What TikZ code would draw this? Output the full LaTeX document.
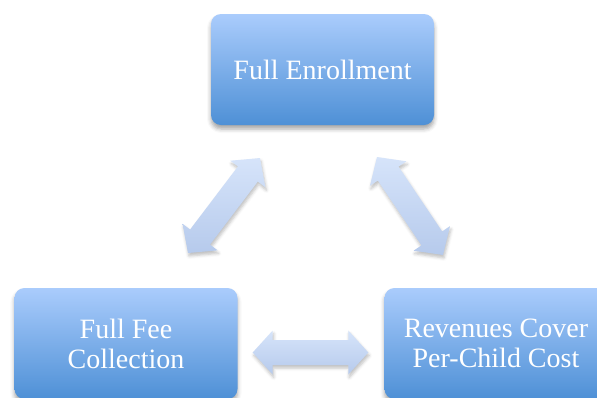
\documentclass[tikz,border=0pt]{standalone}
\usepackage{fontspec}
\setmainfont{Liberation Serif}
\usetikzlibrary{shadows.blur,calc}
\definecolor{boxtop}{RGB}{170,204,252}
\definecolor{boxbot}{RGB}{78,144,214}
\definecolor{arrtop}{RGB}{214,228,250}
\definecolor{arrbot}{RGB}{182,202,236}
\newcommand\linkarrow[2]{%
  \path [link] let \p1=(#1),\p2=(#2),\n1={atan2(\y2-\y1,\x2-\x1)},
    \n2={veclen(\x2-\x1,\y2-\y1)} in [shift={(\p1)},rotate=\n1]
    (0,0) -- (20,22) -- (20,12.5) -- (\n2-20,12.5) -- (\n2-20,22) -- (\n2,0)
    -- (\n2-20,-22) -- (\n2-20,-12.5) -- (20,-12.5) -- (20,-22) -- cycle;}
\begin{document}
\begin{tikzpicture}[x=1pt,y=1pt,
  goal/.style={rounded corners=10pt,minimum width=223pt,minimum height=111pt,
    top color=boxtop,bottom color=boxbot,text=white,align=center,
    font=\fontsize{28}{30}\selectfont,
    blur shadow={shadow xshift=0pt,shadow yshift=-4pt,shadow opacity=35,shadow blur radius=4pt}},
  link/.style={top color=arrtop,bottom color=arrbot,
    blur shadow={shadow xshift=1pt,shadow yshift=-3pt,shadow opacity=25,shadow blur radius=3pt}}]
\useasboundingbox (0,0) rectangle (597,-397);
\node [goal] (enroll) at (322.5,-69.5) {Full Enrollment};
\node [goal] (fees) at (126,-343.5) {Full Fee\\Collection};
\node [goal] (cost) at (496,-343.5) {Revenues Cover\\Per-Child Cost};
\coordinate (fees-up) at (188,-253);
\coordinate (enroll-left) at (260,-158);
\coordinate (enroll-right) at (377,-157);
\coordinate (cost-up) at (443,-255);
\coordinate (fees-right) at ($(fees.east)+(15,-9)$);
\coordinate (cost-left) at ($(cost.west)+(-16,-9)$);
\linkarrow{fees-up}{enroll-left}
\linkarrow{enroll-right}{cost-up}
\linkarrow{fees-right}{cost-left}
\end{tikzpicture}
\end{document}
